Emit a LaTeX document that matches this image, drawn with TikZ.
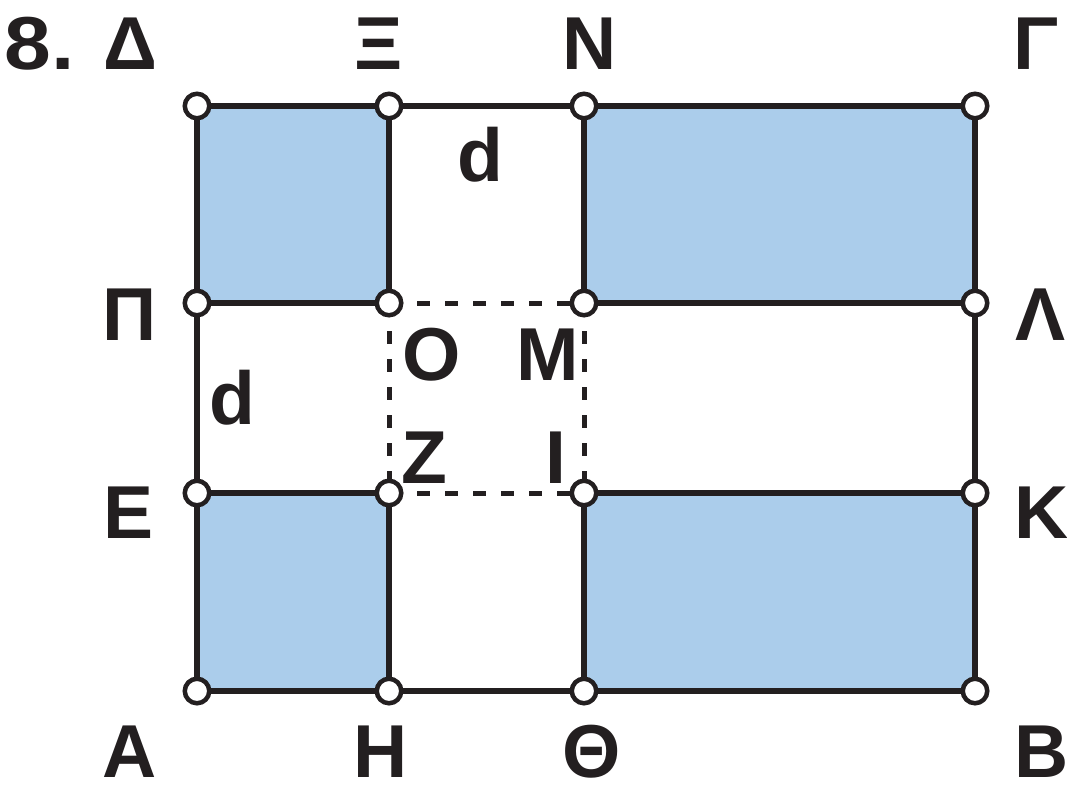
\documentclass[tikz,border=0pt]{standalone}
\usepackage{fontspec}
\setmainfont{Liberation Sans}
\definecolor{ink}{HTML}{231F20}
\definecolor{fillblue}{HTML}{ABCDEB}
\tikzset{
  edge/.style={draw=ink, line width=5.5pt},
  dashedge/.style={draw=ink, line width=5pt, dash pattern=on 13pt off 15pt},
  boxfill/.style={fill=fillblue},
  vertex/.style={circle, draw=ink, fill=white, line width=4.5pt, minimum size=24.5pt, inner sep=0pt},
  lab/.style={anchor=base, inner sep=0pt, text=ink, font=\fontsize{75}{80}\selectfont\bfseries}
}
\begin{document}
\begin{tikzpicture}[x=1pt,y=-1pt]
\useasboundingbox (0,0) rectangle (1067,784);
% grid points
\coordinate (D) at (197,106);
\coordinate (X) at (389,106);
\coordinate (N) at (584,106);
\coordinate (G) at (975,106);
\coordinate (P) at (197,303);
\coordinate (O) at (389,303);
\coordinate (M) at (584,303);
\coordinate (L) at (975,303);
\coordinate (E) at (197,493);
\coordinate (Z) at (389,493);
\coordinate (I) at (584,493);
\coordinate (K) at (975,493);
\coordinate (A) at (197,691);
\coordinate (H) at (389,691);
\coordinate (T) at (584,691);
\coordinate (B) at (975,691);
% fills
\path[boxfill] (D) rectangle (O);
\path[boxfill] (N) rectangle (L);
\path[boxfill] (E) rectangle (H);
\path[boxfill] (I) rectangle (B);
% solid edges
\draw[edge] (D) -- (G);
\draw[edge] (A) -- (B);
\draw[edge] (D) -- (A);
\draw[edge] (G) -- (B);
\draw[edge] (P) -- (O);
\draw[edge] (M) -- (L);
\draw[edge] (E) -- (Z);
\draw[edge] (I) -- (K);
\draw[edge] (X) -- (O);
\draw[edge] (Z) -- (H);
\draw[edge] (N) -- (M);
\draw[edge] (I) -- (T);
% dashed square
\draw[dashedge] (O) -- (M);
\draw[dashedge] (Z) -- (I);
\draw[dashedge] (O) -- (Z);
\draw[dashedge] (M) -- (I);
% vertices
\foreach \p in {D,X,N,G,P,O,M,L,E,Z,I,K,A,H,T,B}
  \node[vertex] (v\p) at (\p) {};
% labels
\node[lab, xscale=1.12] (l8) at (40,70) {8.};
\node[lab] (lD) at (130,70) {Δ};
\node[lab] (lX) at (379,70) {Ξ};
\node[lab] (lN) at (590,70) {Ν};
\node[lab] (lG) at (1036,70) {Γ};
\node[lab] (lP) at (130,340) {Π};
\node[lab] (lL) at (1040,340) {Λ};
\node[lab] (lE) at (129,538) {Ε};
\node[lab] (lK) at (1042,538) {Κ};
\node[lab] (lA) at (130,777) {Α};
\node[lab] (lH) at (381,777) {Η};
\node[lab] (lT) at (592,777) {Θ};
\node[lab] (lB) at (1042,777) {Β};
\node[lab] (lO) at (432,380) {Ο};
\node[lab] (lM) at (548,380) {Μ};
\node[lab] (lZ) at (424,483) {Ζ};
\node[lab] (lI) at (556,483) {Ι};
\node[lab] (ld1) at (480,181) {d};
\node[lab] (ld2) at (232,424) {d};
\end{tikzpicture}
\end{document}
